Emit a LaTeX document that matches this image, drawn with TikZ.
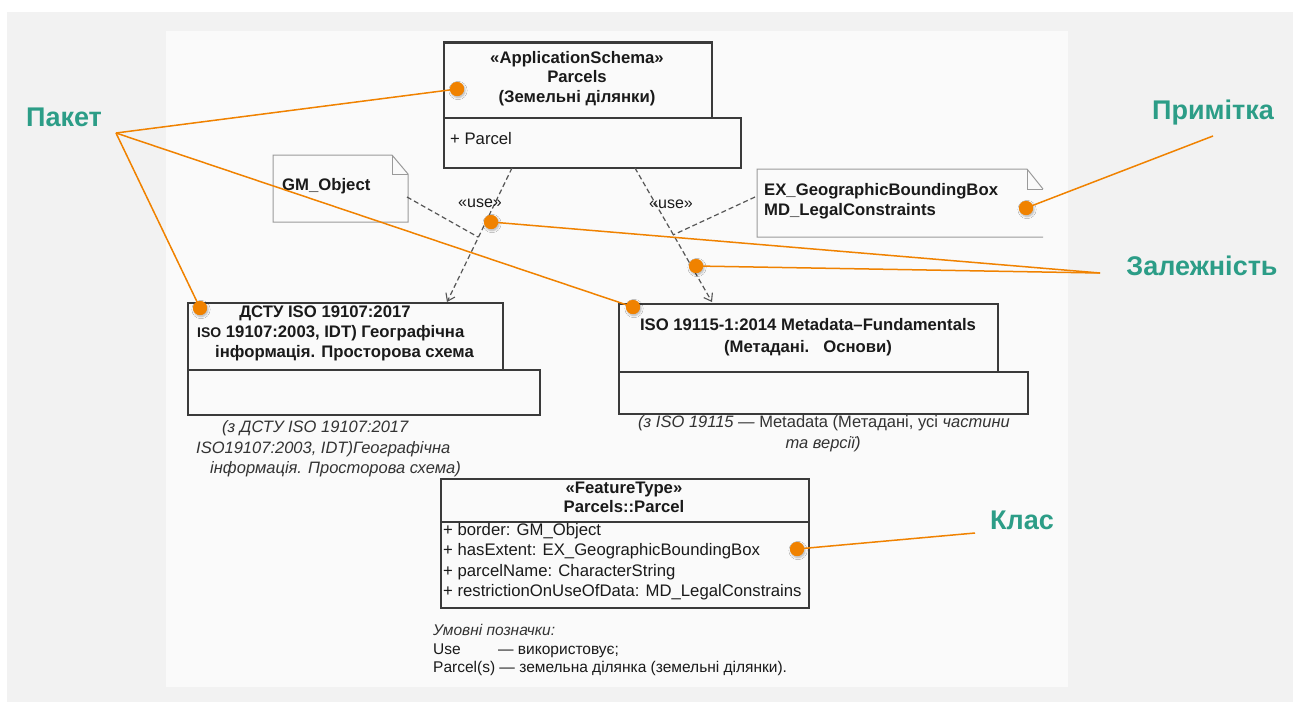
\documentclass[tikz,border=0pt]{standalone}
\usepackage{fontspec}
\setmainfont{Liberation Sans}
\usetikzlibrary{arrows.meta,shadows.blur}
\definecolor{outerbg}{HTML}{F2F2F2}
\definecolor{innerbg}{HTML}{FAFAFA}
\definecolor{umlline}{HTML}{3A3A3A}
\definecolor{noteline}{HTML}{9A9A9A}
\definecolor{depline}{HTML}{555555}
\definecolor{callout}{HTML}{F08200}
\definecolor{labteal}{HTML}{2C9D87}
\definecolor{txt}{HTML}{1A1A1A}
\definecolor{captxt}{HTML}{333333}
\begin{document}
\begin{tikzpicture}[x=1pt,y=-1pt,
  pkg/.style={draw=umlline, line width=1.6pt, fill=innerbg, inner sep=0pt, anchor=north west},
  cls/.style={draw=umlline, line width=1.6pt, fill=innerbg, inner sep=0pt, anchor=north west},
  note/.style={draw=noteline, line width=1pt},
  bt/.style={inner sep=0pt, anchor=mid, text=txt, font=\fontsize{16.7}{20}\selectfont\bfseries},
  rt/.style={inner sep=0pt, anchor=mid, text=txt, font=\fontsize{16.7}{20}\selectfont},
  ct/.style={inner sep=0pt, anchor=mid, text=captxt, font=\fontsize{16.5}{20}\selectfont\itshape},
  lt/.style={inner sep=0pt, anchor=mid west, text=txt, font=\fontsize{15.5}{18}\selectfont},
  deparrow/.style={draw=depline, line width=1.2pt, dash pattern=on 5pt off 3pt},
  callline/.style={draw=callout, line width=1.5pt},
  dot/.style={circle, fill=callout, minimum size=14pt, inner sep=0pt,
    blur shadow={shadow xshift=1pt, shadow yshift=-1.5pt, shadow blur steps=5, shadow opacity=30}},
  lab/.style={inner sep=0pt, anchor=mid, text=labteal, font=\fontsize{27}{32}\selectfont\bfseries}
]
\useasboundingbox (0,0) rectangle (1293,702);
\fill[outerbg] (7,12) rectangle (1293,702);
\fill[innerbg] (166,31) rectangle (1068,687);

% ---------- ApplicationSchema package ----------
\node[pkg, minimum width=268pt, minimum height=75pt] (appTab) at (443,42) {};
\node[pkg, minimum width=297pt, minimum height=50pt] (appBody) at (443,117) {};
\draw[draw=umlline, line width=2.4pt] (appTab.north west) -- (appTab.north east);
\node[bt] (appL1) at (577,61) {«ApplicationSchema»};
\node[bt] (appL2) at (577,80) {Parcels};
\node[bt] (appL3) at (577,100) {(Земельні ділянки)};
\node[rt, anchor=mid west] (appItem) at (450,142) {+ Parcel};

% ---------- GM_Object note ----------
\draw[note] (273,155) -- (392,155) -- (408,174) -- (408,222) -- (273,222) -- cycle;
\draw[note] (392,155) |- (408,174);
\node[bt, anchor=mid west] (gmText) at (282,188) {GM\_Object};

% ---------- EX note ----------
\draw[note] (1043,237) -- (757,237) -- (757,169) -- (1027,169) -- (1043,189);
\draw[note] (1027,169) |- (1043,189);
\node[bt, anchor=mid west] (exL1) at (764,193) {EX\_GeographicBoundingBox};
\node[bt, anchor=mid west] (exL2) at (764,213) {MD\_LegalConstraints};

% ---------- DSTU package ----------
\node[pkg, minimum width=315pt, minimum height=67pt] (dstuTab) at (187,302) {};
\node[pkg, minimum width=352pt, minimum height=45pt] (dstuBody) at (187,369) {};
\node[bt] (dstuL1) at (325,315) {ДСТУ ISO 19107:2017};
\node[bt, anchor=mid west] (dstuL2) at (197,335) {{\fontsize{14}{16}\selectfont ISO} 19107:2003, IDT) Географічна};
\node[bt, anchor=mid west] (dstuL3) at (215,355) {інформація. Просторова схема};
\node[ct, anchor=mid west] (dstuC1) at (222,430) {(з ДСТУ ISO 19107:2017};
\node[ct, anchor=mid west] (dstuC2) at (196,451) {ISO19107:2003, IDT)Географічна};
\node[ct, anchor=mid west] (dstuC3) at (210,471) {інформація. Просторова схема)};

% ---------- ISO 19115 package ----------
\node[pkg, minimum width=379pt, minimum height=68pt] (isoTab) at (618,303) {};
\node[pkg, minimum width=409pt, minimum height=42pt] (isoBody) at (618,371) {};
\node[bt] (isoL1) at (808,328) {ISO 19115-1:2014 Metadata–Fundamentals};
\node[bt] (isoL2) at (808,350) {(Метадані.\ \ \ Основи)};
\node[ct] (isoC1) at (824,425) {(з ISO 19115 — {\upshape Metadata (Метадані, усі} частини};
\node[ct] (isoC2) at (823,446) {та версії)};

% ---------- FeatureType class ----------
\node[cls, minimum width=368pt, minimum height=129pt] (cls) at (440,478) {};
\draw[draw=umlline, line width=1.6pt] (440,522) -- (808,522);
\node[bt] (clsL1) at (624,491) {«FeatureType»};
\node[bt] (clsL2) at (624,510) {Parcels::Parcel};
\node[rt, anchor=mid west] (att1) at (443,533) {+ border: GM\_Object};
\node[rt, anchor=mid west] (att2) at (443,553) {+ hasExtent: EX\_GeographicBoundingBox};
\node[rt, anchor=mid west] (att3) at (443,574) {+ parcelName: CharacterString};
\node[rt, anchor=mid west] (att4) at (443,594) {+ restrictionOnUseOfData: MD\_LegalConstrains};

% ---------- legend ----------
\node[lt, font=\fontsize{15.5}{18}\selectfont\itshape, text=captxt] (leg0) at (433,633) {Умовні позначки:};
\node[lt] (leg1a) at (433,652) {Use};
\node[lt] (leg1b) at (498,652) {— використовує;};
\node[lt] (leg2) at (433,670) {Parcel(s) — земельна ділянка (земельні ділянки).};

% ---------- dependencies ----------
\coordinate (d1s) at (512,168);
\coordinate (d1e) at (447,302);
\coordinate (d2s) at (635,168);
\coordinate (d2e) at (712,302);
\coordinate (gmR) at (407,197);
\coordinate (d1m) at (478,237);
\coordinate (exL) at (755,197);
\coordinate (d2m) at (673,235);
\draw[deparrow, -{Straight Barb[length=7pt,width=10pt,line width=1.1pt]}] (d1s) -- (d1e);
\draw[deparrow, -{Straight Barb[length=7pt,width=10pt,line width=1.1pt]}] (d2s) -- (d2e);
\draw[deparrow] (gmR) -- (d1m);
\draw[deparrow] (exL) -- (d2m);
\node[rt, font=\fontsize{16}{19}\selectfont] (use1) at (480,205) {«use»};
\node[rt, font=\fontsize{16}{19}\selectfont] (use2) at (671,206) {«use»};

% ---------- callouts ----------
\node[lab] (pakLab) at (64,124) {Пакет};
\node[lab] (prmLab) at (1213,117) {Примітка};
\node[lab] (zalLab) at (1202,273) {Залежність};
\node[lab] (klLab) at (1022,527) {Клас};
\coordinate (pakP) at (116,133);
\coordinate (prmP) at (1213,136);
\coordinate (zalP) at (1100,273);
\coordinate (klP) at (975,533);

\node[dot] (dApp) at (457,89) {};
\node[dot] (dIso) at (633,307) {};
\node[dot] (dDstu) at (200,308) {};
\node[dot] (dNote) at (1026,208) {};
\node[dot] (dUseL) at (491,222) {};
\node[dot] (dUseR) at (696,266) {};
\node[dot] (dCls) at (797,549) {};

\draw[callline] (pakP) -- (dApp.center);
\draw[callline] (pakP) -- (dIso.center);
\draw[callline] (pakP) -- (dDstu.center);
\draw[callline] (prmP) -- (dNote.center);
\draw[callline] (zalP) -- (dUseL.center);
\draw[callline] (zalP) -- (dUseR.center);
\draw[callline] (klP) -- (dCls.center);

% redraw dots on top of lines
\foreach \d in {dApp,dIso,dDstu,dNote,dUseL,dUseR,dCls}{
  \fill[callout] (\d.center) circle (7pt);
}
\end{tikzpicture}
\end{document}
